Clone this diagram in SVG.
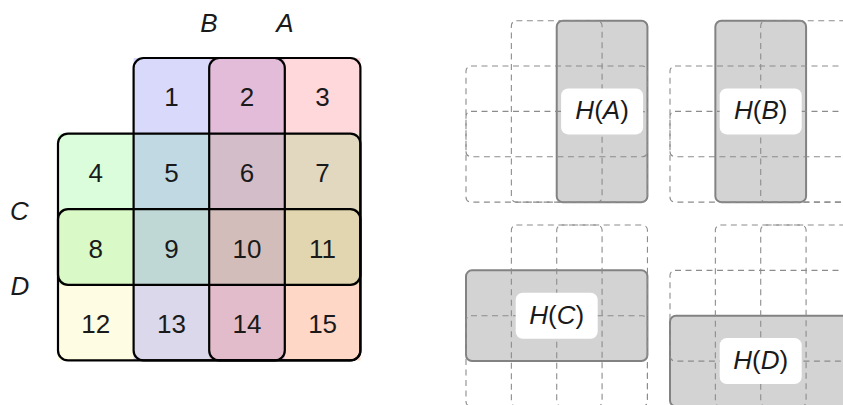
<svg xmlns="http://www.w3.org/2000/svg" width="843" height="405" viewBox="0 0 843 405">
<style>
text{font-family:"Liberation Sans","DejaVu Sans",sans-serif;font-size:26px;fill:#1a1a1a;text-anchor:middle}
.it{font-style:italic}
.reg{fill:none;stroke:#000;stroke-width:2.2}
.dash{fill:none;stroke:#8c8c8c;stroke-width:1.1;stroke-dasharray:6 4.5}
.hi{fill:#d3d3d3;stroke:#828282;stroke-width:2}
.lbl{fill:#fff;stroke:none}
</style>
<rect width="843" height="405" fill="#fff"/>
<g id="cells">
<rect x="133.6" y="58" width="75.6" height="75.6" fill="#d9d9fc"/>
<rect x="209.2" y="58" width="75.6" height="75.6" fill="#e2bcd9"/>
<rect x="284.8" y="58" width="75.6" height="75.6" fill="#ffd8dc"/>
<rect x="58" y="133.6" width="75.6" height="75.6" fill="#dbfddb"/>
<rect x="133.6" y="133.6" width="75.6" height="75.6" fill="#c1d9e3"/>
<rect x="209.2" y="133.6" width="75.6" height="75.6" fill="#d3bdc8"/>
<rect x="284.8" y="133.6" width="75.6" height="75.6" fill="#e2d8bf"/>
<rect x="58" y="209.2" width="75.6" height="75.6" fill="#d9f9c6"/>
<rect x="133.6" y="209.2" width="75.6" height="75.6" fill="#bfd8d6"/>
<rect x="209.2" y="209.2" width="75.6" height="75.6" fill="#d3bdbb"/>
<rect x="284.8" y="209.2" width="75.6" height="75.6" fill="#e2d6b0"/>
<rect x="58" y="284.8" width="75.6" height="75.6" fill="#fefce2"/>
<rect x="133.6" y="284.8" width="75.6" height="75.6" fill="#dad8ea"/>
<rect x="209.2" y="284.8" width="75.6" height="75.6" fill="#e3bccb"/>
<rect x="284.8" y="284.8" width="75.6" height="75.6" fill="#ffd7c6"/>
</g>
<g id="regions">
<rect id="regB" class="reg" x="133.6" y="58" width="151.2" height="302.4" rx="10"/>
<rect id="regA" class="reg" x="209.2" y="58" width="151.2" height="302.4" rx="10"/>
<rect id="regC" class="reg" x="58" y="133.6" width="302.4" height="151.2" rx="10"/>
<rect id="regD" class="reg" x="58" y="209.2" width="302.4" height="151.2" rx="10"/>
</g>
<g id="numbers">
<text x="171.4" y="106.3">1</text>
<text x="247" y="106.3">2</text>
<text x="322.6" y="106.3">3</text>
<text x="95.8" y="181.9">4</text>
<text x="171.4" y="181.9">5</text>
<text x="247" y="181.9">6</text>
<text x="322.6" y="181.9">7</text>
<text x="95.8" y="257.5">8</text>
<text x="171.4" y="257.5">9</text>
<text x="247" y="257.5">10</text>
<text x="322.6" y="257.5">11</text>
<text x="95.8" y="333.1">12</text>
<text x="171.4" y="333.1">13</text>
<text x="247" y="333.1">14</text>
<text x="322.6" y="333.1">15</text>
</g>
<g id="setlabels">
<text class="it" x="209" y="31.5">B</text>
<text class="it" x="285" y="31.5">A</text>
<text class="it" x="19.5" y="220">C</text>
<text class="it" x="20" y="295">D</text>
</g>
<g id="HA" transform="translate(466,20.7)">
<rect class="hi" x="90.72" y="0" width="90.72" height="181.44" rx="6"/>
<rect class="dash" x="45.36" y="0" width="90.72" height="181.44" rx="5"/>
<rect class="dash" x="0" y="45.36" width="181.44" height="90.72" rx="5"/>
<rect class="dash" x="0" y="90.72" width="181.44" height="90.72" rx="5"/>
<rect class="lbl" x="95.1" y="67.7" width="82" height="46" rx="7"/>
<text x="136.1" y="98.6"><tspan class="it">H</tspan>(<tspan class="it">A</tspan>)</text>
</g>
<g id="HB" transform="translate(670,20.7)">
<rect class="hi" x="45.36" y="0" width="90.72" height="181.44" rx="6"/>
<rect class="dash" x="90.72" y="0" width="90.72" height="181.44" rx="5"/>
<rect class="dash" x="0" y="45.36" width="181.44" height="90.72" rx="5"/>
<rect class="dash" x="0" y="90.72" width="181.44" height="90.72" rx="5"/>
<rect class="lbl" x="49.7" y="67.7" width="82" height="46" rx="7"/>
<text x="90.72" y="98.6"><tspan class="it">H</tspan>(<tspan class="it">B</tspan>)</text>
</g>
<g id="HC" transform="translate(466,225)">
<rect class="hi" x="0" y="45.36" width="181.44" height="90.72" rx="6"/>
<rect class="dash" x="45.36" y="0" width="90.72" height="181.44" rx="5"/>
<rect class="dash" x="90.72" y="0" width="90.72" height="181.44" rx="5"/>
<rect class="dash" x="0" y="90.72" width="181.44" height="90.72" rx="5"/>
<rect class="lbl" x="49.7" y="67.7" width="82" height="46" rx="7"/>
<text x="90.72" y="98.6"><tspan class="it">H</tspan>(<tspan class="it">C</tspan>)</text>
</g>
<g id="HD" transform="translate(670,225)">
<rect class="hi" x="0" y="90.72" width="181.44" height="90.72" rx="6"/>
<rect class="dash" x="45.36" y="0" width="90.72" height="181.44" rx="5"/>
<rect class="dash" x="90.72" y="0" width="90.72" height="181.44" rx="5"/>
<rect class="dash" x="0" y="45.36" width="181.44" height="90.72" rx="5"/>
<rect class="lbl" x="49.7" y="113.1" width="82" height="46" rx="7"/>
<text x="90.72" y="144"><tspan class="it">H</tspan>(<tspan class="it">D</tspan>)</text>
</g>
</svg>
